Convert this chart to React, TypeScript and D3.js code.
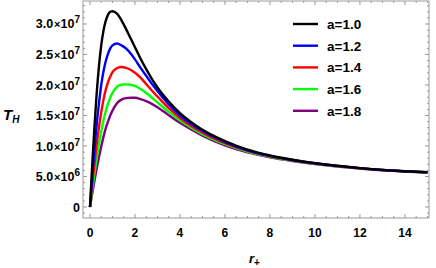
import React from "react";
import * as d3 from "d3";

const rVals = [0, 0.1, 0.2, 0.3, 0.4, 0.5, 0.6, 0.7, 0.8, 0.9, 1.0, 1.2, 1.4, 1.6, 1.8, 2.0, 2.25, 2.5, 2.75, 3, 3.5, 4, 4.5, 5, 6, 7, 8, 9, 10, 11, 12, 13, 14, 15];

// values in units of 1e6
const tA10 = [0, 6.9, 13.2, 18.7, 23.1, 26.5, 28.9, 30.5, 31.5, 32.0, 32.1, 31.7, 30.6, 29.2, 27.7, 26.2, 24.3, 22.6, 21.0, 19.6, 17.3, 15.4, 13.9, 12.65, 10.8, 9.4, 8.45, 7.75, 7.2, 6.76, 6.38, 6.08, 5.86, 5.7];
const tA12 = [0, 4.9, 9.5, 13.6, 17.0, 20.0, 22.2, 23.9, 25.1, 26.0, 26.5, 26.8, 26.5, 26.0, 25.2, 24.2, 22.8, 21.5, 20.2, 19.0, 16.8, 15.0, 13.6, 12.45, 10.65, 9.3, 8.38, 7.71, 7.17, 6.74, 6.37, 6.07, 5.86, 5.69];
const tA14 = [0, 3.7, 7.1, 10.3, 13.1, 15.5, 17.6, 19.2, 20.45, 21.35, 22.1, 22.75, 22.95, 22.8, 22.5, 22.0, 21.2, 20.15, 19.1, 18.1, 16.2, 14.6, 13.3, 12.2, 10.48, 9.19, 8.31, 7.66, 7.13, 6.71, 6.35, 6.06, 5.85, 5.68];
const tA16 = [0, 2.8, 5.5, 8.0, 10.3, 12.4, 14.2, 15.7, 16.95, 17.9, 18.7, 19.7, 20.05, 20.1, 20.05, 19.85, 19.35, 18.7, 17.95, 17.15, 15.6, 14.2, 13.0, 11.95, 10.3, 9.08, 8.24, 7.61, 7.09, 6.68, 6.33, 6.05, 5.84, 5.67];
const tA18 = [0, 2.2, 4.3, 6.3, 8.2, 9.9, 11.5, 12.9, 14.0, 15.0, 15.8, 17.0, 17.6, 17.85, 17.9, 17.9, 17.7, 17.35, 16.9, 16.35, 15.05, 13.8, 12.7, 11.7, 10.1, 8.95, 8.15, 7.55, 7.05, 6.65, 6.3, 6.02, 5.82, 5.66];

const seriesNames = ["a=1.0", "a=1.2", "a=1.4", "a=1.6", "a=1.8"];
const seriesColors = ["#000000", "#0000ff", "#ff0000", "#00ff00", "#800080"];
const seriesData = [tA10, tA12, tA14, tA16, tA18];

const xTicks = [0, 2, 4, 6, 8, 10, 12, 14];
const yTicks = [0, 5e6, 1e7, 1.5e7, 2e7, 2.5e7, 3e7];

const W = 436, H = 268;
const L = 83, R = 429, T = 1, B = 218;

export default function App() {
  const x = d3.scaleLinear().domain([-0.31, 15.07]).range([L, R]);
  const y = d3.scaleLinear().domain([-1.8e6, 33.77e6]).range([B, T]);
  const line = d3
    .line<number>()
    .x((_, i) => x(rVals[i]))
    .y((d) => y(d * 1e6))
    .curve(d3.curveMonotoneX);

  const xMinor = d3.range(0, 15.01, 0.5);
  const yMinor = d3.range(-1e6, 33.5e6, 1e6);
  const frame = "#999999";
  const font = "'Liberation Sans', Arial, sans-serif";

  const fmtY = (v: number) => {
    if (v === 0) return null;
    const e = Math.floor(Math.log10(v));
    const m = (v / Math.pow(10, e)).toFixed(1);
    return { m, e };
  };

  return (
    <svg width={W} height={H} style={{ position: "absolute", left: 0, top: 0, background: "#fff" }} fontFamily={font}>
      <rect x={0} y={0} width={W} height={H} fill="#fff" />
      <defs>
        <clipPath id="plotclip">
          <rect x={L} y={T} width={R - L} height={B - T} />
        </clipPath>
      </defs>
      <rect x={L} y={T} width={R - L} height={B - T} fill="none" stroke={frame} strokeWidth={1} />
      {xMinor.map((v) => {
        const major = Math.abs(v - Math.round(v / 2) * 2) < 1e-6;
        const len = major ? 4 : 2;
        return (
          <g key={"xt" + v}>
            <line x1={x(v)} x2={x(v)} y1={B} y2={B - len} stroke={frame} />
            <line x1={x(v)} x2={x(v)} y1={T} y2={T + len} stroke={frame} />
          </g>
        );
      })}
      {yMinor.map((v) => {
        const major = Math.abs(v / 5e6 - Math.round(v / 5e6)) < 1e-6;
        const len = major ? 4 : 2;
        return (
          <g key={"yt" + v}>
            <line x1={L} x2={L + len} y1={y(v)} y2={y(v)} stroke={frame} />
            <line x1={R} x2={R - len} y1={y(v)} y2={y(v)} stroke={frame} />
          </g>
        );
      })}
      {xTicks.map((v) => (
        <text key={"xl" + v} x={x(v)} y={237} textAnchor="middle" fontSize={12} fontWeight="bold" fill="#000">
          {v}
        </text>
      ))}
      {yTicks.map((v) => {
        const f = fmtY(v);
        if (!f) {
          return (
            <text key={"yl" + v} x={80} y={y(v) + 4.5} textAnchor="end" fontSize={12.5} fontWeight="bold" fill="#000">
              0
            </text>
          );
        }
        return (
          <text key={"yl" + v} x={80} y={y(v) + 4.5} textAnchor="end" fontSize={12.5} fontWeight="bold" fill="#000">
            {f.m}
            <tspan fontSize={11} dx={1}>{"\u00d7"}</tspan>
            <tspan>{"10"}</tspan>
            <tspan fontSize={10} dy={-5}>{f.e}</tspan>
          </text>
        );
      })}
      <text x={3} y={120} fontSize={15} fontWeight="bold" fontStyle="italic" fill="#000">
        T<tspan fontSize={10} dy={3}>H</tspan>
      </text>
      <text x={249} y={263} fontSize={13} fontWeight="bold" fontStyle="italic" fill="#000">
        r<tspan fontSize={10} dy={3} fontStyle="normal">+</tspan>
      </text>
      <g clipPath="url(#plotclip)">
        {seriesData.slice().reverse().map((d, ri) => {
          const i = seriesData.length - 1 - ri;
          return (
            <path key={"s" + i} d={line(d) || ""} fill="none" stroke={seriesColors[i]} strokeWidth={2.4} strokeLinejoin="round" />
          );
        })}
      </g>
      {seriesNames.map((n, i) => {
        const ly = 24 + i * 21.7;
        return (
          <g key={"lg" + i}>
            <line x1={293} x2={318} y1={ly} y2={ly} stroke={seriesColors[i]} strokeWidth={2.4} />
            <text x={327} y={ly + 5} fontSize={13.5} fontWeight="bold" fill="#000">
              {n}
            </text>
          </g>
        );
      })}
    </svg>
  );
}
